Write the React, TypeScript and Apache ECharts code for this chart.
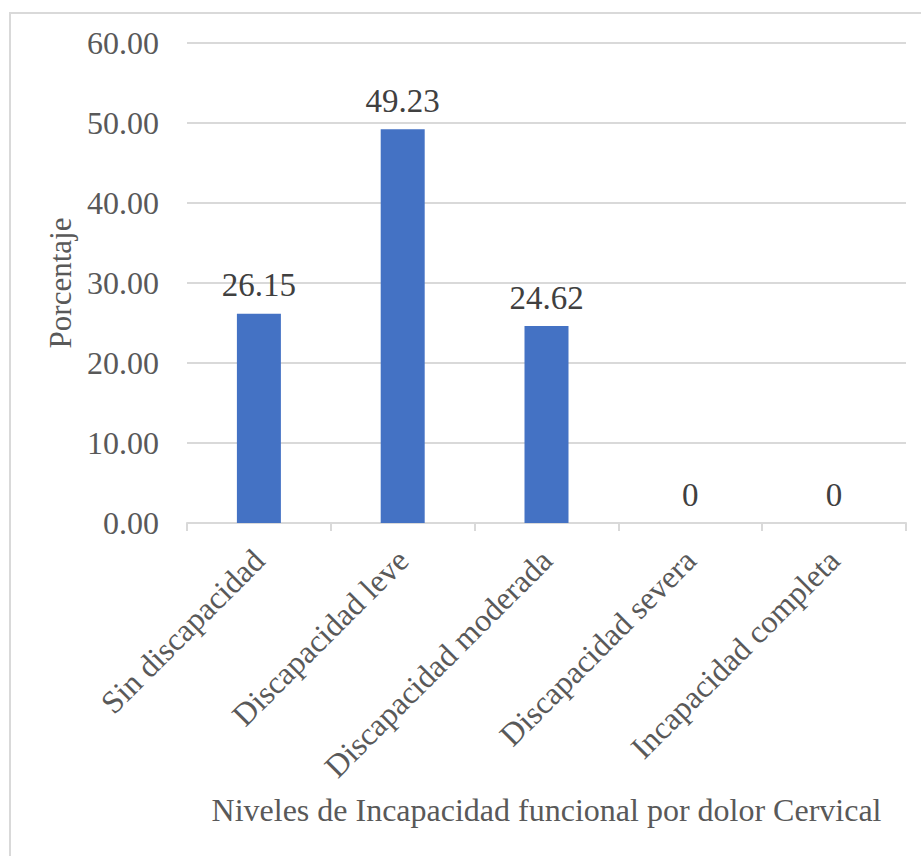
import React, { useEffect, useRef } from "react";
import * as echarts from "echarts";

const categories = [
  "Sin discapacidad",
  "Discapacidad leve",
  "Discapacidad moderada",
  "Discapacidad severa",
  "Incapacidad completa",
];
const percentages = [26.15, 49.23, 24.62, 0, 0];
const yTicks = [0, 10, 20, 30, 40, 50, 60];

const FONT = "'Liberation Serif', 'Times New Roman', serif";

export default function App() {
  const ref = useRef<HTMLDivElement>(null);

  useEffect(() => {
    if (!ref.current) return;
    const chart = echarts.init(ref.current, undefined, { renderer: "svg" });
    chart.setOption({
      animation: false,
      backgroundColor: "#ffffff",
      textStyle: { fontFamily: FONT },
      graphic: [
        {
          type: "rect",
          shape: { x: 10, y: 13, width: 1000, height: 1000 },
          style: { fill: "none", stroke: "#d9d9d9", lineWidth: 2 },
          silent: true,
        },
      ],
      grid: { left: 187, right: 15, top: 43, bottom: 333 },
      xAxis: {
        type: "category",
        data: categories,
        name: "Niveles de Incapacidad funcional por dolor Cervical",
        nameLocation: "middle",
        nameGap: 271,
        nameTextStyle: { fontFamily: FONT, fontSize: 32, color: "#595959" },
        axisLine: { lineStyle: { color: "#d9d9d9", width: 2 } },
        axisTick: { show: true, alignWithLabel: false, length: 8, lineStyle: { color: "#d9d9d9", width: 2 } },
        axisLabel: {
          rotate: 45,
          interval: 0,
          margin: 32,
          fontFamily: FONT,
          fontSize: 32,
          color: "#595959",
        },
      },
      yAxis: {
        type: "value",
        min: 0,
        max: 60,
        interval: 10,
        name: "Porcentaje",
        nameLocation: "middle",
        nameGap: 108,
        nameRotate: 90,
        nameTextStyle: { fontFamily: FONT, fontSize: 31, color: "#595959" },
        axisLine: { show: false },
        axisTick: { show: false },
        axisLabel: {
          margin: 28,
          fontFamily: FONT,
          fontSize: 32,
          color: "#595959",
          formatter: (v: number) => (yTicks.includes(v) ? v.toFixed(2) : ""),
        },
        splitLine: { lineStyle: { color: "#d9d9d9", width: 2 } },
      },
      series: [
        {
          type: "bar",
          data: percentages,
          barWidth: 44,
          itemStyle: { color: "#4472c4" },
          label: {
            show: true,
            position: "top",
            distance: 12,
            fontFamily: FONT,
            fontSize: 33,
            color: "#404040",
            formatter: (p: any) => String(p.value),
          },
        },
      ],
    });
    return () => chart.dispose();
  }, []);

  return (
    <div
      ref={ref}
      style={{ position: "fixed", left: 0, top: 0, width: 921, height: 856 }}
    />
  );
}
